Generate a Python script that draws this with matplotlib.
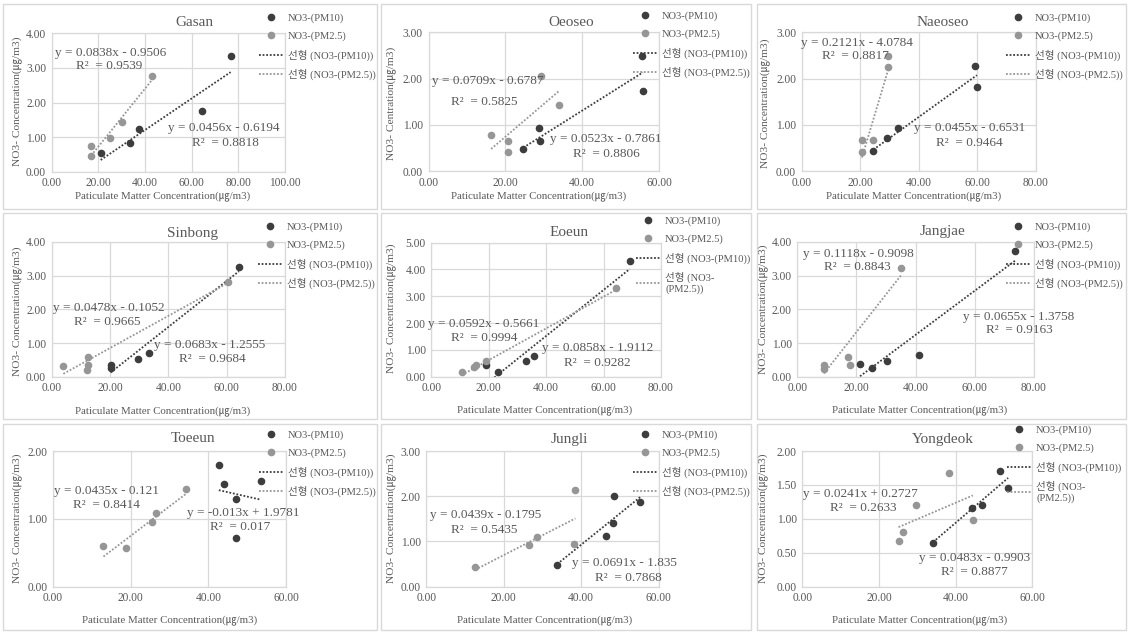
import numpy as np
import matplotlib
matplotlib.use('Agg')
import matplotlib.pyplot as plt
from matplotlib.lines import Line2D
from matplotlib.patches import Rectangle
from matplotlib.ticker import FormatStrFormatter

plt.rcParams['font.family'] = ['Liberation Serif', 'Noto Sans CJK KR']

W, H = 1130, 632

stations = ['Gasan', 'Oeoseo', 'Naeoseo', 'Sinbong', 'Eoeun',
            'Jangjae', 'Toeeun', 'Jungli', 'Yongdeok']

pm10_x = [
    [21.0, 33.6, 37.6, 64.6, 76.7],
    [24.7, 28.8, 29.0, 55.6, 55.8],
    [24.5, 29.1, 33.0, 59.1, 59.9],
    [20.2, 20.3, 29.7, 33.3, 64.2],
    [19.0, 23.3, 33.0, 35.9, 69.1],
    [21.2, 25.4, 30.4, 41.1, 73.6],
    [42.7, 44.0, 47.2, 47.2, 53.5],
    [33.8, 46.4, 48.2, 48.4, 55.2],
    [34.1, 44.3, 47.0, 51.6, 53.7],
]
pm10_y = [
    [0.55, 0.82, 1.22, 1.75, 3.34],
    [0.48, 0.93, 0.65, 2.49, 1.74],
    [0.44, 0.71, 0.92, 2.28, 1.81],
    [0.35, 0.25, 0.54, 0.71, 3.26],
    [0.42, 0.17, 0.57, 0.77, 4.32],
    [0.39, 0.27, 0.46, 0.63, 3.72],
    [1.79, 1.52, 1.29, 0.72, 1.56],
    [0.48, 1.11, 1.41, 2.00, 1.88],
    [0.65, 1.16, 1.20, 1.70, 1.46],
]
pm25_x = [
    [16.9, 16.9, 25.0, 30.3, 42.9],
    [16.3, 20.6, 20.6, 29.4, 34.0],
    [20.6, 20.6, 24.5, 29.6, 29.6],
    [4.0, 12.3, 12.6, 12.2, 60.3],
    [10.6, 14.9, 15.4, 18.9, 64.4],
    [9.0, 9.0, 17.0, 17.7, 35.0],
    [13.0, 18.7, 25.4, 26.5, 34.2],
    [12.6, 26.5, 28.5, 38.1, 38.5],
    [25.1, 26.2, 29.7, 38.3, 44.5],
]
pm25_y = [
    [0.75, 0.45, 0.98, 1.43, 2.78],
    [0.78, 0.65, 0.42, 2.05, 1.42],
    [0.67, 0.42, 0.67, 2.24, 2.49],
    [0.32, 0.59, 0.34, 0.19, 2.82],
    [0.17, 0.36, 0.42, 0.60, 3.30],
    [0.35, 0.22, 0.59, 0.36, 3.24],
    [0.60, 0.57, 0.95, 1.08, 1.44],
    [0.43, 0.92, 1.09, 0.94, 2.14],
    [0.68, 0.81, 1.20, 1.67, 0.99],
]

# linear trendlines: slope, intercept, R^2
pm10_slope = [0.0456, 0.0523, 0.0455, 0.0683, 0.0858, 0.0655, -0.013, 0.0691, 0.0483]
pm10_icpt = [-0.6194, -0.7861, -0.6531, -1.2555, -1.9112, -1.3758, 1.9781, -1.835, -0.9903]
pm10_r2 = [0.8818, 0.8806, 0.9464, 0.9684, 0.9282, 0.9163, 0.017, 0.7868, 0.8877]
pm25_slope = [0.0838, 0.0709, 0.2121, 0.0478, 0.0592, 0.1118, 0.0435, 0.0439, 0.0241]
pm25_icpt = [-0.9506, -0.6787, -4.0784, -0.1052, -0.5661, -0.9098, -0.121, -0.1795, 0.2727]
pm25_r2 = [0.9539, 0.5825, 0.8817, 0.9665, 0.9994, 0.8843, 0.8414, 0.5435, 0.2633]

x_max = [100, 60, 80, 80, 80, 80, 60, 60, 60]
y_max = [4, 3, 3, 4, 5, 4, 2, 3, 2]
y_step = [1, 1, 1, 1, 1, 1, 1, 1, 0.5]

ylabels = ['NO3- Concentration(㎍/m3)'] * 9
ylabels[1] = 'NO3- Centration(㎍/m3)'
xlabel = 'Paticulate Matter Concentration(㎍/m3)'
trend10_labels = ['선형 (NO3-(PM10))'] * 9
trend25_labels = ['선형 (NO3-(PM2.5))'] * 9
trend25_labels[4] = '선형 (NO3-\n(PM2.5))'
trend25_labels[8] = '선형 (NO3-\n(PM2.5))'

# layout in pixels (from top-left)
axes_px = [
    (51.7, 33.3, 285.0, 171.7), (428.5, 32.3, 659.0, 171.0), (801.7, 32.3, 1035.7, 171.0),
    (51.7, 242.0, 285.0, 376.7), (431.3, 242.7, 661.0, 376.7), (797.3, 242.0, 1034.0, 376.7),
    (53.0, 451.0, 286.0, 586.7), (426.3, 451.0, 658.7, 586.7), (802.3, 451.0, 1032.3, 586.7),
]
title_px = [(194, 23), (571, 23), (943, 23), (193, 233), (569, 232), (942, 232),
            (193, 439), (569, 439), (943, 439)]
xlabel_px = [(163, 197), (539, 197), (914, 197), (163, 412), (545, 411), (920, 411),
             (170, 621), (545, 621), (920, 621)]
ylabel_px = [(18, 101), (392, 103), (766, 103), (18, 311), (392, 308), (764, 309),
             (18, 518), (392, 518), (764, 518)]
legend_px = [(259, 13), (633, 11), (1006, 13), (258, 222), (636, 216), (1006, 222),
             (259, 430), (633, 430), (1007, 425)]
# centers of equation lines: pm2.5 eq, pm2.5 R2, pm10 eq, pm10 R2
eq_px = [
    [(110.7, 52.7), (108.7, 65.7), (223.7, 128.3), (225.0, 142.7)],
    [(487.8, 81.0), (484.5, 101.7), (605.7, 139.3), (606.0, 154.3)],
    [(857.0, 43.3), (855.7, 56.0), (969.8, 128.3), (969.5, 142.7)],
    [(108.7, 307.7), (107.2, 322.0), (210.0, 345.0), (212.5, 359.3)],
    [(483.7, 323.7), (483.7, 338.3), (597.5, 347.7), (597.0, 362.7)],
    [(858.3, 253.7), (857.3, 266.7), (1019.0, 317.0), (1019.0, 330.3)],
    [(106.7, 491.0), (106.7, 505.0), (243.3, 512.7), (240.0, 527.0)],
    [(485.7, 515.0), (484.5, 530.3), (624.5, 563.3), (628.7, 577.7)],
    [(860.7, 493.7), (863.0, 508.3), (974.5, 557.7), (974.0, 571.7)],
]
panel_cols = [(3, 377), (381, 751), (757, 1126)]
panel_rows = [(4, 209), (213, 419), (424, 630)]

PM10_COLOR = '#3d3d3d'
PM25_COLOR = '#969696'
TEXT_COLOR = '#595959'
GRID_COLOR = '#d9d9d9'


def fig_xy(x, y):
    return x / W, 1 - y / H


def num(v):
    s = f'{abs(v):.4f}'.rstrip('0').rstrip('.')
    return s


def equation(slope, icpt):
    sl = ('-' if slope < 0 else '') + num(slope)
    sign = '-' if icpt < 0 else '+'
    return f'y = {sl}x {sign} {num(icpt)}'


fig = plt.figure(figsize=(W / 100, H / 100), dpi=100)

for (x0, x1) in panel_cols:
    for (y0, y1) in panel_rows:
        fx, fy = fig_xy(x0, y1)
        fig.add_artist(Rectangle((fx, fy), (x1 - x0) / W, (y1 - y0) / H,
                                 transform=fig.transFigure, fill=False,
                                 ec=GRID_COLOR, lw=1))

for i, name in enumerate(stations):
    l, t, r, b = axes_px[i]
    ax = fig.add_axes([l / W, 1 - b / H, (r - l) / W, (b - t) / H])
    ax.set_axisbelow(True)

    ax.scatter(pm10_x[i], pm10_y[i], s=20, color=PM10_COLOR, zorder=3, clip_on=False)
    ax.scatter(pm25_x[i], pm25_y[i], s=20, color=PM25_COLOR, zorder=3, clip_on=False)

    fits = [(pm10_x[i], pm10_slope[i], pm10_icpt[i], PM10_COLOR),
            (pm25_x[i], pm25_slope[i], pm25_icpt[i], PM25_COLOR)]
    for xs, slope, icpt, color in fits:
        xx = np.array([min(xs), max(xs)])
        ax.plot(xx, slope * xx + icpt, ls=(0, (1, 1)), lw=1.3, color=color, zorder=2)

    ax.set_xlim(0, x_max[i])
    ax.set_ylim(0, y_max[i])
    ax.set_xticks(np.arange(0, x_max[i] + 1, 20))
    ax.set_yticks(np.arange(0, y_max[i] + y_step[i] / 2, y_step[i]))
    ax.xaxis.set_major_formatter(FormatStrFormatter('%.2f'))
    ax.yaxis.set_major_formatter(FormatStrFormatter('%.2f'))
    ax.tick_params(length=0, labelsize=8.3, labelcolor=TEXT_COLOR, pad=4)
    ax.grid(True, color=GRID_COLOR, lw=0.9)
    for sp in ax.spines.values():
        sp.set_color(GRID_COLOR)
        sp.set_linewidth(0.9)

    fig.text(*fig_xy(*title_px[i]), name, ha='center', va='center',
             fontsize=11, color=TEXT_COLOR)
    fig.text(*fig_xy(*xlabel_px[i]), xlabel, ha='center', va='center',
             fontsize=7.8, color=TEXT_COLOR)
    fig.text(*fig_xy(*ylabel_px[i]), ylabels[i], ha='center', va='center',
             rotation=90, fontsize=8.2, color=TEXT_COLOR)

    eq_texts = [equation(pm25_slope[i], pm25_icpt[i]), f'R²  = {num(pm25_r2[i])}',
                equation(pm10_slope[i], pm10_icpt[i]), f'R²  = {num(pm10_r2[i])}']
    for txt, pos in zip(eq_texts, eq_px[i]):
        fig.text(*fig_xy(*pos), txt, ha='center', va='center',
                 fontsize=9.5, color=TEXT_COLOR)

    handles = [
        Line2D([], [], ls='none', marker='o', markersize=4.5, color=PM10_COLOR),
        Line2D([], [], ls='none', marker='o', markersize=4.5, color=PM25_COLOR),
        Line2D([], [], ls=(0, (1, 1)), lw=1.3, color=PM10_COLOR),
        Line2D([], [], ls=(0, (1, 1)), lw=1.3, color=PM25_COLOR),
    ]
    labels = ['NO3-(PM10)', 'NO3-(PM2.5)', trend10_labels[i], trend25_labels[i]]
    ax.legend(handles, labels, loc='upper left',
              bbox_to_anchor=fig_xy(*legend_px[i]), bbox_transform=fig.transFigure,
              frameon=False, borderpad=0, borderaxespad=0, handlelength=2.3,
              handletextpad=0.45, labelspacing=0.8, fontsize=7.6,
              labelcolor=TEXT_COLOR, numpoints=1)

fig.savefig('out.png', dpi=100, facecolor='white')
